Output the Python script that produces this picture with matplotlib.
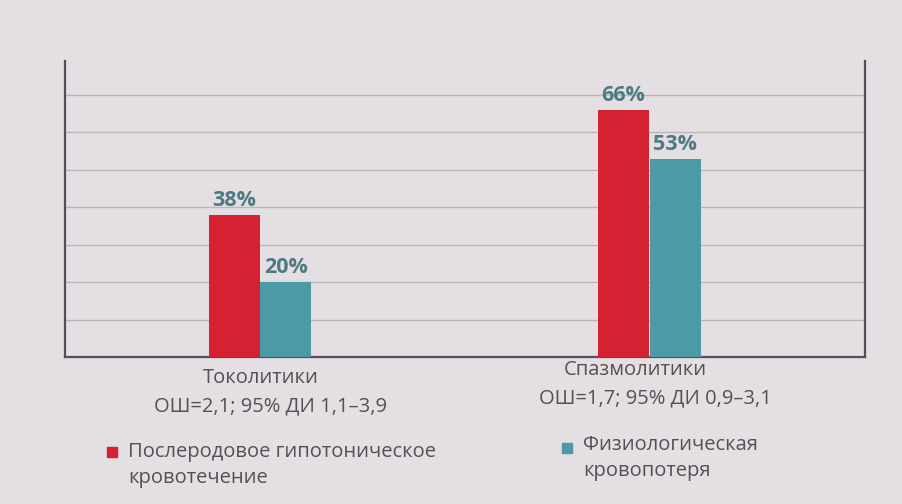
import matplotlib
matplotlib.use("Agg")
import matplotlib.pyplot as plt
import numpy as np

categories = ["Токолитики", "Спазмолитики"]
odds_labels = ["ОШ=2,1; 95% ДИ 1,1–3,9", "ОШ=1,7; 95% ДИ 0,9–3,1"]
hemorrhage = [38, 66]
physiological = [20, 53]
series_names = ["Послеродовое гипотоническое\nкровотечение", "Физиологическая\nкровопотеря"]

RED = "#d42233"
TEAL = "#4c9aa6"
LABEL = "#4f7a84"
TEXT = "#565056"
BG = "#e3dfe2"

plt.rcParams["font.family"] = ["Open Sans", "DejaVu Sans"]

fig = plt.figure(figsize=(9.02, 5.04), dpi=100, facecolor=BG)
ax = fig.add_axes([0.072, 0.2917, 0.887, 0.587])
ax.set_facecolor(BG)

x = np.arange(len(categories))
w = 0.131
b1 = ax.bar(x - w / 2, hemorrhage, width=w, color=RED, zorder=3)
b2 = ax.bar(x + w / 2 + 0.002, physiological, width=w, color=TEAL, zorder=3)

for bars, vals in ((b1, hemorrhage), (b2, physiological)):
    for rect, v in zip(bars, vals):
        ax.text(rect.get_x() + rect.get_width() / 2, v + 1.0, f"{v}%",
                ha="center", va="bottom", fontsize=15.5, fontweight="bold",
                color=LABEL, zorder=4)

ax.set_xlim(-0.5, 1.555)
ax.set_ylim(0, 79)
ax.set_yticks(np.arange(10, 80, 10))
ax.yaxis.grid(True, color="#bdb5ba", linewidth=1.0, zorder=0)
ax.set_xticks([])
ax.tick_params(axis="y", length=0, labelleft=False)
for side in ("left", "right", "bottom"):
    ax.spines[side].set_color("#5b4b58")
    ax.spines[side].set_linewidth(1.6)
ax.spines["top"].set_visible(False)

# category captions with odds ratios
cat_pos = [(261, 378), (635, 370)]
or_pos = [(271, 406), (655, 398)]
for (cx, cy), name in zip(cat_pos, categories):
    fig.text(cx / 902, 1 - cy / 504, name, ha="center", va="center",
             fontsize=14.5, color=TEXT)
for (ox, oy), lab in zip(or_pos, odds_labels):
    fig.text(ox / 902, 1 - oy / 504, lab, ha="center", va="center",
             fontsize=14.5, color=TEXT)

# legend
legend_items = [((112, 452), (128, 465), RED, series_names[0]),
                ((567, 448), (583, 458), TEAL, series_names[1])]
for (sx, sy), (tx, ty), col, name in legend_items:
    fig.patches.append(plt.Rectangle((sx / 902 - 0.0055, 1 - sy / 504 - 0.0095),
                                     0.011, 0.019, transform=fig.transFigure,
                                     color=col, zorder=3))
    fig.text(tx / 902, 1 - ty / 504, name, ha="left", va="center",
             fontsize=14.5, color=TEXT, linespacing=1.35)

fig.savefig("out.png", dpi=100, facecolor=BG)
